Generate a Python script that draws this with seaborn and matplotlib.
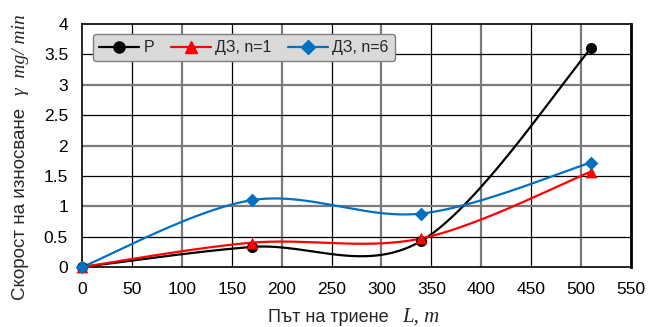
import numpy as np
import pandas as pd
import matplotlib
matplotlib.use("Agg")
import matplotlib.pyplot as plt
from matplotlib.lines import Line2D
import seaborn as sns

# Friction path, m
distance = [0, 170, 340, 510]
# Wear rate, mg/min
wear_p = [0.0, 0.33, 0.43, 3.60]
wear_dz1 = [0.0, 0.40, 0.47, 1.57]
wear_dz6 = [0.0, 1.10, 0.88, 1.72]

series_names = ["Р", "ДЗ, n=1", "ДЗ, n=6"]
series_values = [wear_p, wear_dz1, wear_dz6]
series_colors = ["#000000", "#ff0000", "#0070c0"]
series_markers = ["o", "^", "D"]
series_msize = [8, 8.5, 7]

x_ticks = list(range(0, 551, 50))
y_ticks = [0, 0.5, 1, 1.5, 2, 2.5, 3, 3.5, 4]

W, H = 649, 327


def smooth_curve(xs, ys, n=60):
    """Bezier spline through the points (spreadsheet-style smoothed line)."""
    p = np.column_stack([xs, ys]).astype(float)
    ext = np.vstack([p[0], p, p[-1]])
    out = []
    t = np.linspace(0, 1, n)[:, None]
    for i in range(len(p) - 1):
        p0, p1 = ext[i + 1], ext[i + 2]
        c1 = p0 + (ext[i + 2] - ext[i]) / 6.0
        c2 = p1 - (ext[i + 3] - ext[i + 1]) / 6.0
        seg = ((1 - t) ** 3) * p0 + 3 * ((1 - t) ** 2) * t * c1 \
            + 3 * (1 - t) * t ** 2 * c2 + t ** 3 * p1
        out.append(seg if i == 0 else seg[1:])
    return np.vstack(out)


sns.set_style("white")
plt.rcParams["font.family"] = ["Liberation Sans", "DejaVu Sans"]

fig = plt.figure(figsize=(W / 100, H / 100), dpi=100)
ax = fig.add_axes([82 / W, 1 - 267 / H, (631 - 82) / W, (267 - 24) / H])

# grid: whole units / hundreds in grey, halves / fifties in black
for v in x_ticks[1:]:
    if v % 100 == 0:
        ax.axvline(v, color="#7a7a7a", lw=1.6, zorder=1)
    else:
        ax.axvline(v, color="#000000", lw=0.9, zorder=1)
for v in y_ticks[1:-1]:
    if float(v).is_integer():
        ax.axhline(v, color="#7a7a7a", lw=1.6, zorder=1)
    else:
        ax.axhline(v, color="#000000", lw=0.9, zorder=1)

handles = []
for name, vals, col, mk, ms in zip(series_names, series_values, series_colors,
                                    series_markers, series_msize):
    curve = smooth_curve(distance, vals)
    df_curve = pd.DataFrame({"x": curve[:, 0], "y": curve[:, 1]})
    sns.lineplot(data=df_curve, x="x", y="y", ax=ax, color=col, lw=1.6,
                 sort=False, estimator=None, zorder=3)
    df_pts = pd.DataFrame({"x": distance, "y": vals})
    sns.scatterplot(data=df_pts, x="x", y="y", ax=ax, color=col, marker=mk,
                    s=ms ** 2, edgecolor=col, linewidth=0, zorder=4,
                    clip_on=False)
    handles.append(Line2D([], [], color=col, lw=1.6, marker=mk,
                          markersize=ms, label=name))

ax.set_xlim(0, 550)
ax.set_ylim(0, 4)
ax.set_xticks(x_ticks)
ax.set_yticks(y_ticks)
ax.set_xticklabels([str(v) for v in x_ticks])
ax.set_yticklabels([f"{v:g}" for v in y_ticks])
ax.tick_params(axis="both", length=0, labelsize=12.5, colors="#000000")
ax.tick_params(axis="x", pad=11)
ax.tick_params(axis="y", pad=10)
ax.set_xlabel("")
ax.set_ylabel("")

for side in ["left", "bottom", "top", "right"]:
    ax.spines[side].set_visible(True)
    ax.spines[side].set_color("#000000")
    ax.spines[side].set_linewidth(1.2)
ax.spines["right"].set_linewidth(2.0)

# axis titles: sans-serif words followed by italic serif symbols
fig.text(268 / W, 5 / H, "Път на триене", fontsize=13,
         ha="left", va="baseline")
fig.text(440 / W, 5 / H, "L, m", fontsize=15, ha="right", va="baseline",
         family=["Liberation Serif", "DejaVu Serif"], style="italic")

fig.text(25 / W, 1 - 300 / H, "Скорост на износване", fontsize=13.5,
         rotation=90, rotation_mode="anchor", ha="left", va="baseline")
fig.text(25 / W, 1 - 14 / H, "γ  mg/ min", fontsize=14, rotation=90,
         rotation_mode="anchor", ha="right", va="baseline",
         family=["Liberation Serif", "DejaVu Serif"], style="italic")

leg = ax.legend(handles=handles, loc="upper left", bbox_to_anchor=(0.02, 0.96),
                borderaxespad=0, ncol=3, fontsize=11.5, frameon=True,
                fancybox=True, facecolor="#d9d9d9", edgecolor="#7f7f7f",
                framealpha=1, handlelength=2.5, columnspacing=1.0,
                handletextpad=0.3, borderpad=0.4)
leg.get_frame().set_linewidth(1.0)
leg.set_zorder(5)

fig.savefig("out.png", dpi=100)
